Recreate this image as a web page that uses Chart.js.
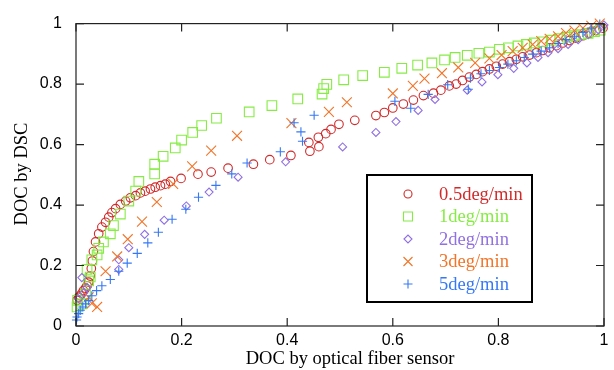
<!DOCTYPE html>
<html>
<head>
<meta charset="utf-8">
<script src="https://cdn.jsdelivr.net/npm/chart.js@4/dist/chart.umd.min.js"></script>
<style>
  html, body { margin: 0; padding: 0; background: #fff; }
  #wrap { width: 614px; height: 370px; }
</style>
</head>
<body>
<div id="wrap"><canvas id="chart" width="614" height="370"></canvas></div>
<script>
// series labels
const seriesNames = ['0.5deg/min', '1deg/min', '2deg/min', '3deg/min', '5deg/min'];
const seriesColors = ['#d02a2a', '#86ec44', '#9070e2', '#f27428', '#3578f6'];
const seriesStyles = ['circle', 'rect', 'rectRot', 'crossRot', 'cross'];
const seriesRadius = [4.3, 6.8, 4, 7, 4.6];
const axisTicks = [0, 0.2, 0.4, 0.6, 0.8, 1];
const tickLabels = ['0', '0.2', '0.4', '0.6', '0.8', '1'];

// 0.5deg/min
const x05 = [0.002,0.005,0.008,0.011,0.014,0.018,0.021,0.024,0.027,0.029,0.031,0.033,0.037,0.043,0.049,0.056,0.062,0.068,0.075,0.084,0.094,0.103,0.113,0.122,0.131,0.141,0.150,0.160,0.169,0.179,0.199,0.231,0.256,0.288,0.336,0.367,0.407,0.443,0.460,0.441,0.459,0.473,0.483,0.498,0.528,0.568,0.584,0.600,0.620,0.639,0.658,0.677,0.691,0.707,0.720,0.732,0.745,0.758,0.770,0.783,0.796,0.808,0.821,0.834,0.846,0.859,0.872,0.884,0.897,0.910,0.922,0.935,0.947,0.960,0.973,0.985,0.998];
const y05 = [0.085,0.095,0.100,0.108,0.117,0.125,0.133,0.145,0.165,0.190,0.215,0.246,0.278,0.305,0.327,0.343,0.360,0.375,0.388,0.402,0.413,0.424,0.431,0.440,0.446,0.453,0.459,0.464,0.469,0.478,0.488,0.502,0.509,0.522,0.535,0.550,0.564,0.578,0.593,0.607,0.624,0.636,0.650,0.667,0.680,0.696,0.706,0.721,0.734,0.747,0.762,0.770,0.780,0.794,0.800,0.812,0.823,0.832,0.841,0.850,0.859,0.866,0.874,0.882,0.890,0.896,0.904,0.911,0.920,0.927,0.936,0.944,0.952,0.960,0.968,0.977,0.985];

// 1deg/min
const x1 = [0.002,0.003,0.011,0.018,0.024,0.027,0.021,0.030,0.040,0.043,0.052,0.065,0.071,0.084,0.100,0.113,0.119,0.149,0.149,0.165,0.188,0.200,0.221,0.238,0.266,0.328,0.371,0.420,0.466,0.469,0.475,0.507,0.543,0.584,0.617,0.647,0.674,0.698,0.718,0.741,0.763,0.783,0.802,0.819,0.837,0.853,0.868,0.884,0.900,0.916,0.930,0.944,0.957,0.970,0.982,0.993];
const y1 = [0.063,0.085,0.073,0.106,0.149,0.162,0.187,0.219,0.235,0.257,0.278,0.305,0.332,0.370,0.413,0.446,0.478,0.503,0.535,0.561,0.589,0.615,0.640,0.663,0.687,0.708,0.729,0.751,0.767,0.785,0.799,0.814,0.828,0.839,0.852,0.863,0.870,0.880,0.888,0.895,0.902,0.906,0.915,0.920,0.926,0.931,0.936,0.940,0.945,0.950,0.955,0.960,0.964,0.968,0.973,0.978];

// 2deg/min
const x2 = [0.005,0.015,0.021,0.011,0.081,0.081,0.100,0.130,0.167,0.209,0.252,0.307,0.397,0.505,0.568,0.606,0.648,0.680,0.741,0.769,0.799,0.829,0.854,0.875,0.894,0.913,0.932,0.951,0.970,0.989,1.000];
const y2 = [0.090,0.110,0.127,0.160,0.187,0.219,0.259,0.303,0.350,0.397,0.443,0.492,0.543,0.592,0.640,0.676,0.713,0.749,0.780,0.807,0.831,0.852,0.870,0.888,0.904,0.917,0.931,0.947,0.963,0.980,0.995];

// 3deg/min
const x3 = [0.024,0.030,0.040,0.056,0.078,0.098,0.125,0.153,0.184,0.220,0.256,0.305,0.408,0.479,0.513,0.600,0.638,0.660,0.693,0.724,0.756,0.783,0.806,0.827,0.846,0.865,0.881,0.897,0.913,0.928,0.944,0.960,0.976,0.992];
const y3 = [0.095,0.075,0.063,0.181,0.230,0.287,0.345,0.410,0.470,0.528,0.580,0.629,0.671,0.708,0.740,0.769,0.794,0.818,0.836,0.855,0.870,0.885,0.896,0.909,0.920,0.931,0.942,0.950,0.958,0.969,0.977,0.985,0.993,1.000];

// 5deg/min
const x5 = [0.001,0.002,0.005,0.008,0.013,0.018,0.024,0.030,0.039,0.049,0.065,0.081,0.097,0.116,0.136,0.156,0.182,0.208,0.232,0.265,0.295,0.324,0.387,0.429,0.426,0.413,0.451,0.604,0.634,0.667,0.704,0.743,0.747,0.767,0.783,0.802,0.818,0.834,0.849,0.865,0.881,0.897,0.913,0.928,0.944,0.960,0.976,0.992];
const y5 = [0.020,0.030,0.041,0.052,0.063,0.073,0.084,0.100,0.117,0.133,0.154,0.181,0.208,0.240,0.275,0.310,0.353,0.386,0.426,0.465,0.503,0.539,0.576,0.611,0.642,0.672,0.697,0.743,0.720,0.766,0.798,0.783,0.820,0.834,0.845,0.855,0.866,0.877,0.888,0.899,0.909,0.920,0.934,0.947,0.958,0.971,0.985,0.998];

const xs = [x05, x1, x2, x3, x5];
const ys = [y05, y1, y2, y3, y5];

const datasets = seriesNames.map((name, i) => ({
    label: name,
    data: xs[i].map((x, k) => ({ x: x, y: ys[i][k] })),
    pointStyle: seriesStyles[i],
    pointRadius: seriesRadius[i],
    pointHoverRadius: seriesRadius[i],
    pointBorderWidth: 1.1,
    borderColor: seriesColors[i],
    backgroundColor: 'rgba(0,0,0,0)',
    showLine: false,
    clip: false,
    order: seriesNames.length - i
}));

// frame, inward ticks, axis titles and the boxed legend
const framePlugin = {
    id: 'frame',
    afterDraw(chart) {
        const ctx = chart.ctx;
        const a = chart.chartArea;
        const sx = chart.scales.x, sy = chart.scales.y;
        ctx.save();
        ctx.strokeStyle = '#222';
        ctx.lineWidth = 1.2;
        ctx.strokeRect(a.left, a.top, a.right - a.left, a.bottom - a.top);
        ctx.beginPath();
        axisTicks.forEach(v => {
            const px = sx.getPixelForValue(v);
            const py = sy.getPixelForValue(v);
            ctx.moveTo(px, a.bottom); ctx.lineTo(px, a.bottom - 8);
            ctx.moveTo(px, a.top); ctx.lineTo(px, a.top + 8);
            ctx.moveTo(a.left, py); ctx.lineTo(a.left + 8, py);
            ctx.moveTo(a.right, py); ctx.lineTo(a.right - 8, py);
        });
        ctx.stroke();

        // axis titles
        ctx.fillStyle = '#000';
        ctx.font = '18.5px "Liberation Serif", "Times New Roman", serif';
        ctx.textAlign = 'center';
        ctx.textBaseline = 'middle';
        ctx.fillText('DOC by optical fiber sensor', 350, 359);
        ctx.save();
        ctx.translate(22, 174);
        ctx.rotate(-Math.PI / 2);
        ctx.fillText('DOC by DSC', 0, 0);
        ctx.restore();

        // legend
        const lx = 367, ly = 175, lw = 165, lh = 127;
        ctx.fillStyle = '#fff';
        ctx.fillRect(lx, ly, lw, lh);
        ctx.lineWidth = 2;
        ctx.strokeStyle = '#000';
        ctx.strokeRect(lx, ly, lw, lh);
        ctx.textAlign = 'left';
        seriesNames.forEach((name, i) => {
            const cy = 194 + i * 22.5;
            const cx = 408;
            ctx.strokeStyle = seriesColors[i];
            ctx.lineWidth = 1.1;
            ctx.beginPath();
            const s = seriesStyles[i];
            if (s === 'circle') {
                ctx.arc(cx, cy, 4, 0, Math.PI * 2);
            } else if (s === 'rect') {
                ctx.rect(cx - 4.5, cy - 4.5, 9, 9);
            } else if (s === 'rectRot') {
                ctx.moveTo(cx - 4, cy); ctx.lineTo(cx, cy - 4);
                ctx.lineTo(cx + 4, cy); ctx.lineTo(cx, cy + 4); ctx.closePath();
            } else if (s === 'crossRot') {
                ctx.moveTo(cx - 4.5, cy - 4.5); ctx.lineTo(cx + 4.5, cy + 4.5);
                ctx.moveTo(cx - 4.5, cy + 4.5); ctx.lineTo(cx + 4.5, cy - 4.5);
            } else {
                ctx.moveTo(cx - 4.5, cy); ctx.lineTo(cx + 4.5, cy);
                ctx.moveTo(cx, cy - 4.5); ctx.lineTo(cx, cy + 4.5);
            }
            ctx.stroke();
            ctx.fillStyle = seriesColors[i];
            ctx.fillText(name, 439, cy + 1);
        });
        ctx.restore();
    }
};

const tickFont = { family: '"Liberation Sans", Arial, sans-serif', size: 16 };
const tickText = (value) => {
    const idx = axisTicks.indexOf(value);
    return idx >= 0 ? tickLabels[idx] : '';
};

new Chart(document.getElementById('chart'), {
    type: 'scatter',
    data: { datasets: datasets },
    options: {
        responsive: false,
        animation: false,
        events: [],
        layout: { padding: { top: 17, right: 10, left: 0, bottom: 0 } },
        plugins: {
            legend: { display: false },
            tooltip: { enabled: false }
        },
        scales: {
            x: {
                type: 'linear',
                min: 0,
                max: 1,
                afterBuildTicks: (scale) => { scale.ticks = axisTicks.map(v => ({ value: v })); },
                afterFit: (scale) => { scale.height = 44; },
                grid: { display: false, drawTicks: false },
                border: { display: false },
                ticks: { font: tickFont, color: '#000', padding: 5, maxRotation: 0, callback: tickText }
            },
            y: {
                type: 'linear',
                min: 0,
                max: 1,
                afterBuildTicks: (scale) => { scale.ticks = axisTicks.map(v => ({ value: v })); },
                afterFit: (scale) => { scale.width = 76; },
                grid: { display: false, drawTicks: false },
                border: { display: false },
                ticks: { font: tickFont, color: '#000', padding: 14, callback: tickText }
            }
        }
    },
    plugins: [framePlugin]
});
</script>
</body>
</html>
